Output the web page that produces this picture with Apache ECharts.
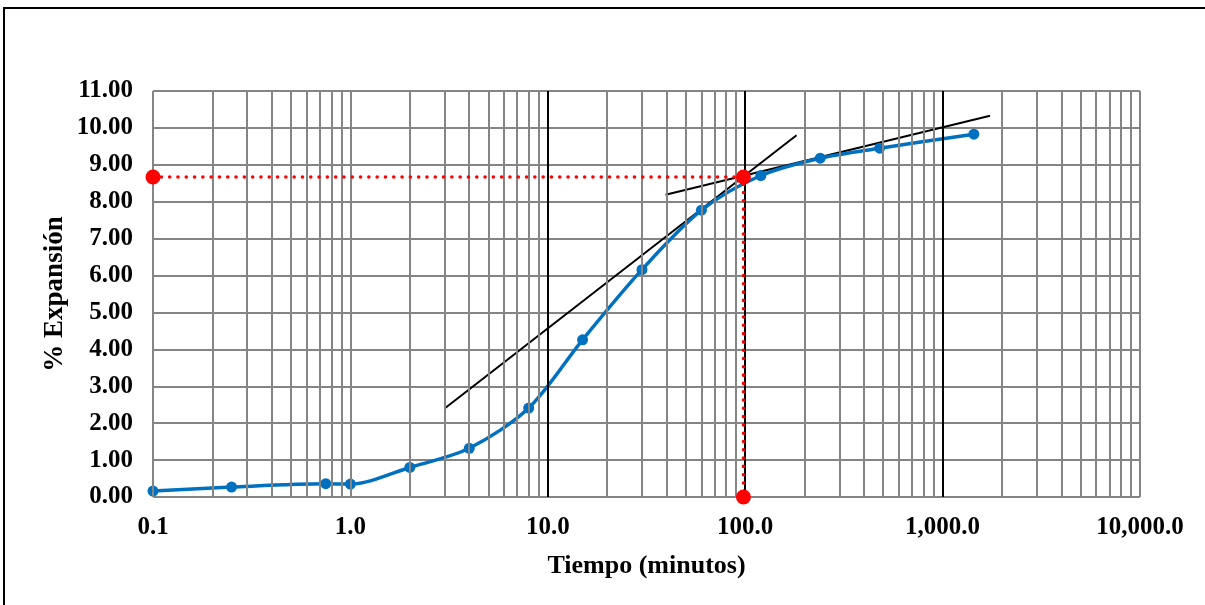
<!DOCTYPE html>
<html>
<head>
<meta charset="utf-8">
<script src="https://cdn.jsdelivr.net/npm/echarts@6/dist/echarts.min.js"></script>
<style>
html,body{margin:0;padding:0;background:#fff;}
#frame{position:absolute;left:3px;top:7px;width:1210px;height:610px;border-left:2px solid #000;border-top:2px solid #000;box-sizing:border-box;}
#chart{position:absolute;left:0;top:0;width:1205px;height:605px;}
</style>
</head>
<body>
<div id="frame"></div>
<div id="chart"></div>
<script>
// Data
const tiempo = [0.1, 0.25, 0.75, 1, 2, 4, 8, 15, 30, 60, 120, 240, 480, 1440];
const expansion = [0.16, 0.27, 0.36, 0.35, 0.80, 1.32, 2.41, 4.26, 6.16, 7.77, 8.71, 9.18, 9.45, 9.83];
const refX = [0.1, 98, 98];
const refY = [8.67, 8.67, 0];
const tangente1X = [3, 182];
const tangente1Y = [2.40, 9.80];
const tangente2X = [39.5, 1740];
const tangente2Y = [8.19, 10.33];
const yTicks = [0,1,2,3,4,5,6,7,8,9,10,11];
const decadas = [0.1, 1, 10, 100, 1000, 10000];

const FONT = 'Liberation Serif';
const GRAY = '#858585';

// vertical grid lines (structure of the log axis)
const vLines = [];
for (let d = 0; d < decadas.length; d++) {
  const base = decadas[d];
  const major = (base === 10 || base === 100 || base === 1000);
  vLines.push({xAxis: base, lineStyle: {color: major ? '#000' : GRAY, width: 2, type: 'solid'}});
  if (d < decadas.length - 1) {
    for (let m = 2; m <= 9; m++) {
      vLines.push({xAxis: +(base * m).toPrecision(6), lineStyle: {color: GRAY, width: 2, type: 'solid'}});
    }
  }
}

const zip = (a, b) => a.map((v, i) => [v, b[i]]);

const chart = echarts.init(document.getElementById('chart'), null, {renderer: 'canvas'});
chart.setOption({
  animation: false,
  backgroundColor: 'transparent',
  grid: {left: 153, right: 65, top: 91, bottom: 108, containLabel: false},
  xAxis: {
    type: 'log', logBase: 10, min: 0.1, max: 10000,
    name: 'Tiempo (minutos)', nameLocation: 'middle', nameGap: 56,
    nameTextStyle: {fontFamily: FONT, fontWeight: 'bold', fontSize: 26, color: '#000'},
    axisLine: {show: false}, axisTick: {show: false},
    splitLine: {show: false},
    axisLabel: {
      fontFamily: FONT, fontWeight: 'bold', fontSize: 25, color: '#000', margin: 18,
      formatter: v => Number(v).toLocaleString('en-US', {minimumFractionDigits: 1, maximumFractionDigits: 1})
    }
  },
  yAxis: {
    type: 'value', min: 0, max: 11, interval: 1,
    name: '% Expansión', nameLocation: 'middle', nameGap: 84, nameRotate: 90,
    nameMoveOverlap: false,
    nameTextStyle: {fontFamily: FONT, fontWeight: 'bold', fontSize: 27, color: '#000'},
    axisLine: {show: false}, axisTick: {show: false},
    splitLine: {show: true, lineStyle: {color: GRAY, width: 2}},
    axisLabel: {
      fontFamily: FONT, fontWeight: 'bold', fontSize: 25, color: '#000', margin: 20,
      formatter: v => Number(v).toFixed(2)
    }
  },
  series: [
    {
      type: 'line', data: [], silent: true,
      markLine: {silent: true, symbol: 'none', label: {show: false}, animation: false, data: vLines}
    },
    {
      type: 'line', data: zip(tangente1X, tangente1Y), showSymbol: false, symbol: 'none',
      lineStyle: {color: '#000', width: 2}, z: 3, clip: false
    },
    {
      type: 'line', data: zip(tangente2X, tangente2Y), showSymbol: false, symbol: 'none',
      lineStyle: {color: '#000', width: 2}, z: 3, clip: false
    },
    {
      type: 'line', data: zip(tiempo, expansion), smooth: 0.3,
      symbol: 'circle', symbolSize: 11,
      itemStyle: {color: '#0070C0'},
      lineStyle: {color: '#0070C0', width: 3.5}, z: 4
    },
    {
      type: 'line', data: zip(refX, refY),
      symbol: 'circle', symbolSize: 15,
      itemStyle: {color: '#FF0000'},
      lineStyle: {color: '#FF0000', width: 3.5, type: [0.1, 8.2], cap: 'round'}, z: 5, clip: false
    }
  ]
});
</script>
</body>
</html>
